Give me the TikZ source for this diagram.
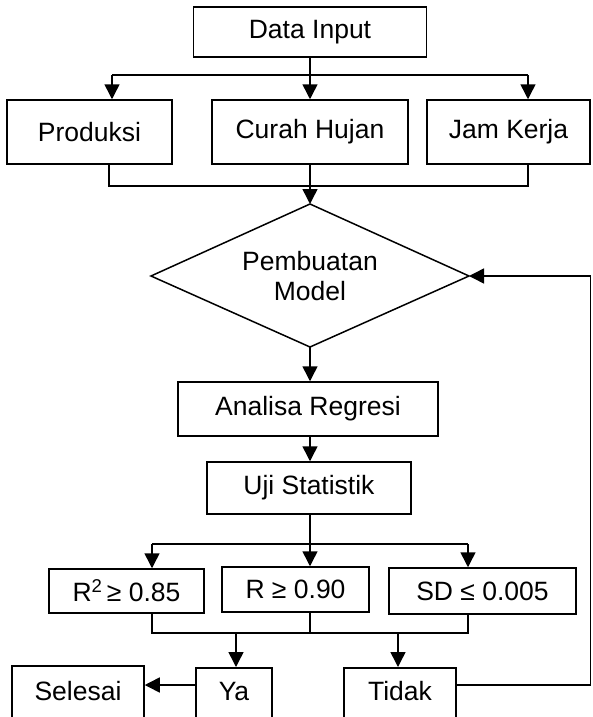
\documentclass[tikz,border=0pt]{standalone}
\usepackage{fontspec}
\setmainfont{Liberation Sans}
\usetikzlibrary{arrows.meta}
\begin{document}
\begin{tikzpicture}[x=1pt,y=-1pt,
  txt/.style={font=\fontsize{26.5}{30}\selectfont},
  box/.style={txt,draw,line width=1.5pt,inner sep=0pt},
  lin/.style={line width=1.5pt},
  arr/.style={lin,-{Triangle[length=15pt,width=15pt]}},
]
\useasboundingbox (0,0) rectangle (592,717);
\begin{scope}
\clip (0,0) rectangle (592,717);
% top part
\node[box,minimum width=233pt,minimum height=50pt] (din) at (310,32) {Data Input};
\node[box,minimum width=165pt,minimum height=64pt] (prod) at (89.5,132) {Produksi};
\node[box,minimum width=196pt,minimum height=64pt] (cur) at (310,132) {Curah Hujan};
\node[box,minimum width=163pt,minimum height=64pt] (jam) at (508.5,132) {Jam Kerja};
\coordinate (j1) at (310,75);
\coordinate (j1l) at (112,75);
\coordinate (j1r) at (528,75);
\draw[lin] (din.south) -- (j1);
\draw[lin] (j1l) -- (j1r);
\draw[arr] (j1) -- (cur.north);
\draw[arr] (j1l) -- (j1l |- prod.north);
\draw[arr] (j1r) -- (j1r |- jam.north);
\coordinate (j2l) at (109,186);
\coordinate (j2r) at (528,186);
\draw[lin] (prod.south -| j2l) -- (j2l) -- (j2r) -- (jam.south -| j2r);
% diamond
\coordinate (mt) at (310,204);
\coordinate (mr) at (469,276);
\coordinate (mb) at (310,347);
\coordinate (ml) at (151,276);
\draw[lin,line join=miter] (mt) -- (mr) -- (mb) -- (ml) -- cycle;
\node[txt,align=center] (model) at (310,276) {Pembuatan\\Model};
\draw[arr] (cur.south) -- (mt);
% middle
\node[box,minimum width=260pt,minimum height=54pt] (anal) at (308,409) {Analisa Regresi};
\node[box,minimum width=204pt,minimum height=52pt] (uji) at (309,488) {Uji Statistik};
\draw[arr] (mb) -- (mb |- anal.north);
\draw[arr] (anal.south -| mb) -- (uji.north -| mb);
% tests
\node[box,minimum width=155pt,minimum height=44pt] (r2) at (126.5,591) {R\textsuperscript{2}\,≥ 0.85};
\node[box,minimum width=147pt,minimum height=45pt] (rr) at (295.5,589.5) {R ≥ 0.90};
\node[box,minimum width=187pt,minimum height=46pt] (sd) at (482.5,591) {SD ≤ 0.005};
\coordinate (j3) at (310,544);
\coordinate (j3l) at (152,544);
\coordinate (j3r) at (468,544);
\draw[lin] (uji.south -| j3) -- (j3);
\draw[lin] (j3l) -- (j3r);
\draw[arr] (j3l) -- (j3l |- r2.north);
\draw[arr] (j3) -- (j3 |- rr.north);
\draw[arr] (j3r) -- (j3r |- sd.north);
\coordinate (j4l) at (152,633);
\coordinate (j4m) at (310,633);
\coordinate (j4r) at (468,633);
\draw[lin] (r2.south -| j4l) -- (j4l) -- (j4r) -- (sd.south -| j4r);
\draw[lin] (rr.south -| j4m) -- (j4m);
% bottom
\node[box,anchor=north,minimum width=76pt,text height=33pt,text depth=60pt] (ya) at (234,667) {Ya};
\node[box,anchor=north,minimum width=132pt,text height=35pt,text depth=60pt] (sel) at (78,665) {Selesai};
\node[box,anchor=north,minimum width=112pt,text height=33pt,text depth=60pt] (tid) at (400,667) {Tidak};
\coordinate (ya0) at (236,633);
\coordinate (ti0) at (398,633);
\draw[arr] (ya0) -- (ya0 |- ya.north);
\draw[arr] (ti0) -- (ti0 |- tid.north);
\coordinate (yrow) at (0,685);
\draw[arr] (ya.west |- yrow) -- (sel.east |- yrow);
\coordinate (rc) at (590.5,685);
\draw[arr] (tid.east |- yrow) -- (rc) -- (rc |- mr) -- (mr);
\end{scope}
\end{tikzpicture}
\end{document}
